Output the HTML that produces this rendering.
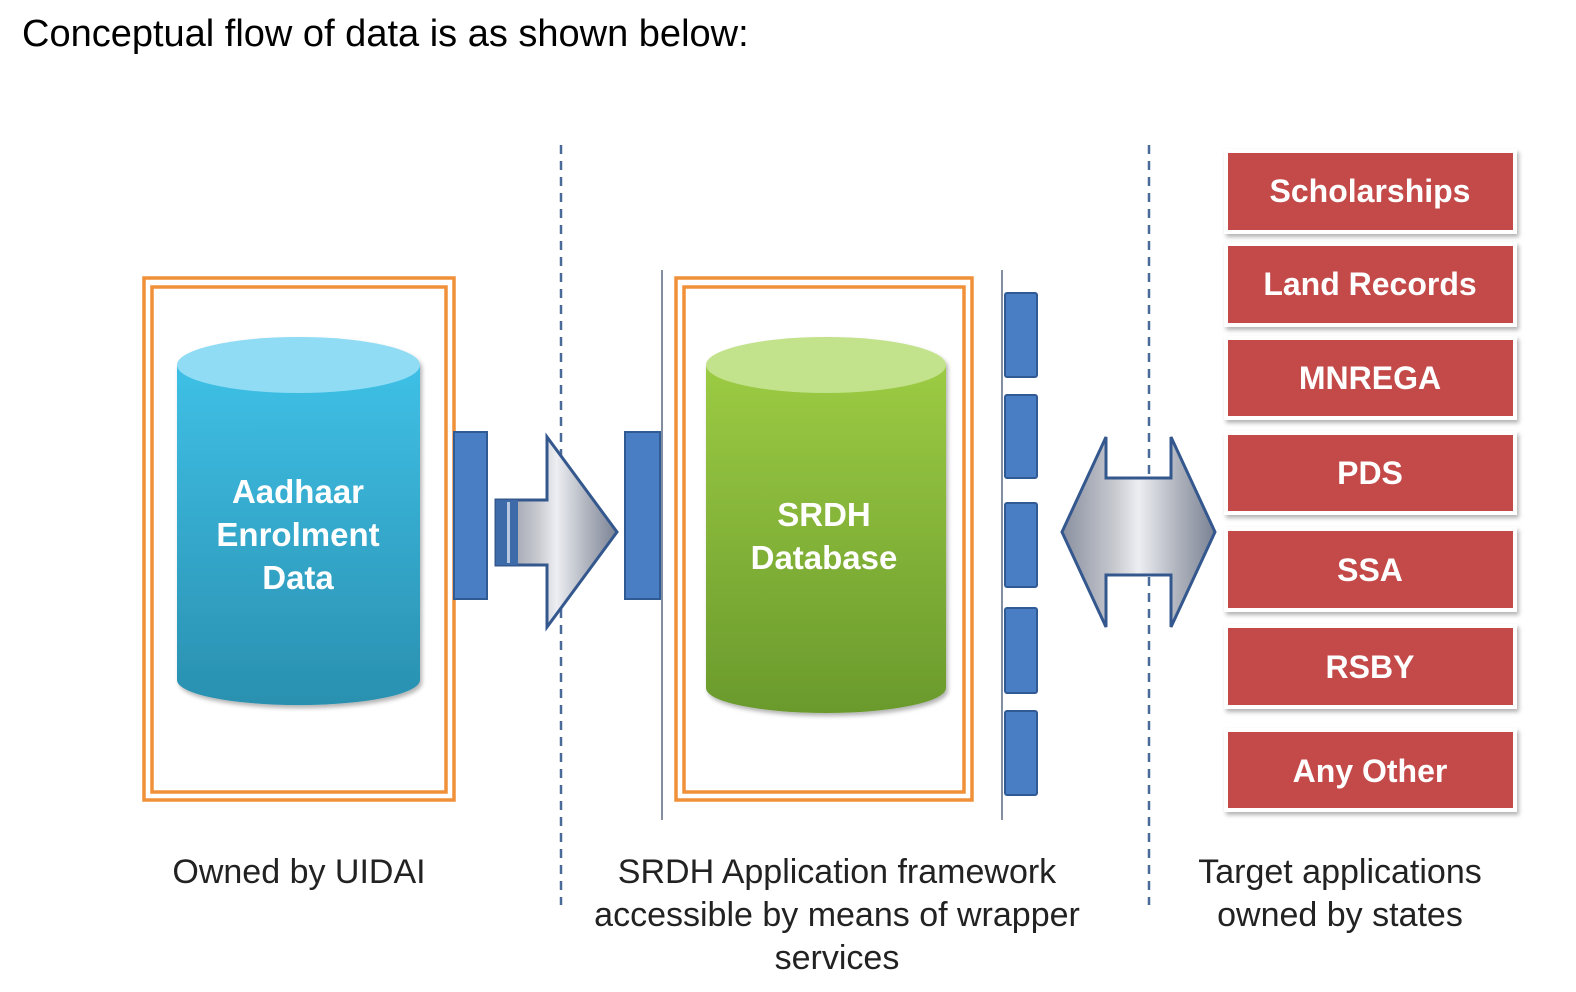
<!DOCTYPE html>
<html><head><meta charset="utf-8"><style>
body{margin:0;background:#fff;}
svg{display:block}
</style></head><body>
<svg width="1576" height="992" viewBox="0 0 1576 992" xmlns="http://www.w3.org/2000/svg" font-family="Liberation Sans, sans-serif">
<defs>
<linearGradient id="blue" x1="0" y1="0" x2="0" y2="1"><stop offset="0" stop-color="#3fc0e6"/><stop offset="1" stop-color="#2a90b0"/></linearGradient>
<linearGradient id="green" x1="0" y1="0" x2="0" y2="1"><stop offset="0" stop-color="#9ccb44"/><stop offset="1" stop-color="#6a9a2c"/></linearGradient>
<linearGradient id="metal" x1="0" y1="0" x2="1" y2="0"><stop offset="0" stop-color="#8a90a0"/><stop offset="0.35" stop-color="#c8cad0"/><stop offset="0.5" stop-color="#eceef2"/><stop offset="0.75" stop-color="#b0b4be"/><stop offset="1" stop-color="#7a8294"/></linearGradient>
<filter id="sh" x="-5%" y="-5%" width="115%" height="125%"><feDropShadow dx="2" dy="3" stdDeviation="2" flood-color="#000" flood-opacity="0.3"/></filter>
</defs>
<text x="22" y="46" font-size="38" fill="#000">Conceptual flow of data is as shown below:</text>
<line x1="561" y1="145" x2="561" y2="905" stroke="#4a6a9a" stroke-width="2.5" stroke-dasharray="9,7"/>
<line x1="1149" y1="145" x2="1149" y2="905" stroke="#4a6a9a" stroke-width="2.5" stroke-dasharray="9,7"/>
<rect x="144" y="278" width="310" height="522" fill="none" stroke="#f0913a" stroke-width="3.5"/>
<rect x="152" y="287" width="294" height="505" fill="none" stroke="#f0913a" stroke-width="3.5"/>
<g filter="url(#sh)">
<path d="M177 365 V680 A121 25 0 0 0 420 680 V365 Z" fill="url(#blue)"/>
<ellipse cx="298.5" cy="365" rx="121.5" ry="28" fill="#8fdcf4"/>
</g>
<g font-size="33" font-weight="bold" fill="#fff" text-anchor="middle">
<text x="298" y="503">Aadhaar</text><text x="298" y="546">Enrolment</text><text x="298" y="589">Data</text>
</g>
<rect x="454" y="432" width="33" height="167" fill="#4a7ec4" stroke="#2f5a94" stroke-width="2"/>
<path d="M496 500 H547 V437 L617 532 L547 627 V565 H496 Z" fill="url(#metal)" stroke="#34588e" stroke-width="3"/>
<rect x="496" y="500" width="22" height="65" fill="#3d6aa8"/>
<rect x="507" y="502" width="3" height="61" fill="#b8c8e0"/>
<rect x="625" y="432" width="35" height="167" fill="#4a7ec4" stroke="#2f5a94" stroke-width="2"/>
<line x1="662" y1="270" x2="662" y2="820" stroke="#5a6a80" stroke-width="1.5"/>
<rect x="676" y="278" width="296" height="522" fill="none" stroke="#f0913a" stroke-width="3.5"/>
<rect x="684" y="287" width="280" height="505" fill="none" stroke="#f0913a" stroke-width="3.5"/>
<g filter="url(#sh)">
<path d="M706 365 V688 A120 25 0 0 0 946 688 V365 Z" fill="url(#green)"/>
<ellipse cx="826" cy="365" rx="120" ry="28" fill="#c3e28c"/>
</g>
<g font-size="33" font-weight="bold" fill="#fff" text-anchor="middle">
<text x="824" y="526">SRDH</text><text x="824" y="569">Database</text>
</g>
<line x1="1002" y1="270" x2="1002" y2="820" stroke="#5a6a80" stroke-width="1.5"/>
<g fill="#4a7ec4" stroke="#2f5a94" stroke-width="2">
<rect x="1005" y="293" width="32" height="84" rx="2"/>
<rect x="1005" y="395" width="32" height="83" rx="2"/>
<rect x="1005" y="503" width="32" height="84" rx="2"/>
<rect x="1005" y="608" width="32" height="85" rx="2"/>
<rect x="1005" y="711" width="32" height="84" rx="2"/>
</g>
<path d="M1062 532 L1106 437 V478 H1171 V437 L1215 532 L1171 627 V575 H1106 V627 Z" fill="url(#metal)" stroke="#34588e" stroke-width="3"/>
<g font-size="32" font-weight="bold" fill="#fff" text-anchor="middle">
<g filter="url(#sh)" fill="#c44a4a" stroke="#fff" stroke-width="4">
<rect x="1226" y="151" width="289" height="81"/>
<rect x="1226" y="244" width="289" height="81"/>
<rect x="1226" y="338" width="289" height="80"/>
<rect x="1226" y="433" width="289" height="80"/>
<rect x="1226" y="529" width="289" height="81"/>
<rect x="1226" y="626" width="289" height="81"/>
<rect x="1226" y="730" width="289" height="80"/>
</g>
<text x="1370" y="202">Scholarships</text>
<text x="1370" y="295">Land Records</text>
<text x="1370" y="389">MNREGA</text>
<text x="1370" y="484">PDS</text>
<text x="1370" y="581">SSA</text>
<text x="1370" y="678">RSBY</text>
<text x="1370" y="782">Any Other</text>
</g>
<g font-size="34" fill="#222" text-anchor="middle">
<text x="299" y="883">Owned by UIDAI</text>
<text x="837" y="883">SRDH Application framework</text>
<text x="837" y="926">accessible by means of wrapper</text>
<text x="837" y="969">services</text>
<text x="1340" y="883">Target applications</text>
<text x="1340" y="926">owned by states</text>
</g>
</svg>
</body></html>
